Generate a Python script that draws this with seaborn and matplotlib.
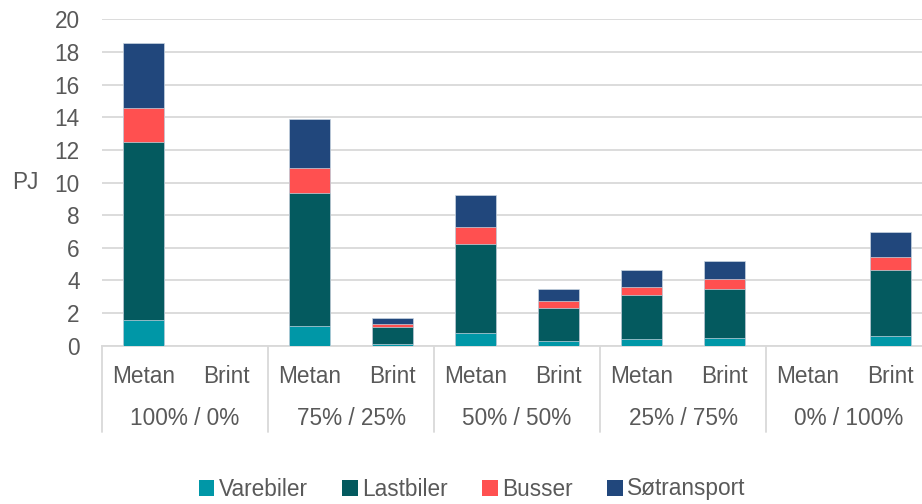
import matplotlib
matplotlib.use("Agg")
import matplotlib.pyplot as plt
import seaborn as sns
import pandas as pd
import numpy as np
from matplotlib.patches import Patch
from matplotlib.transforms import blended_transform_factory

groups = ["100% / 0%", "75% / 25%", "50% / 50%", "25% / 75%", "0% / 100%"]
fuels = ["Metan", "Brint"]
varebiler   = [1.57, 0.0, 1.20, 0.10, 0.78, 0.29, 0.41, 0.47, 0.0, 0.59]
lastbiler   = [10.91, 0.0, 8.16, 1.04, 5.46, 2.02, 2.69, 3.02, 0.0, 4.06]
busser      = [2.10, 0.0, 1.55, 0.21, 1.02, 0.41, 0.51, 0.59, 0.0, 0.78]
sotransport = [3.98, 0.0, 3.00, 0.36, 2.00, 0.73, 1.00, 1.10, 0.0, 1.51]
series_names = ["Varebiler", "Lastbiler", "Busser", "Søtransport"]
colors = ["#0097A7", "#045A5F", "#FF5050", "#21477C"]
yticks = [0, 2, 4, 6, 8, 10, 12, 14, 16, 18, 20]

sns.set_theme(style="white")
plt.rcParams["font.family"] = ["Liberation Sans", "DejaVu Sans"]
text_color = "#595959"
fs = 16.3

keys = [f"{g}|{f}" for g in groups for f in fuels]
df = pd.DataFrame({"key": keys, "Varebiler": varebiler, "Lastbiler": lastbiler,
                   "Busser": busser, "Søtransport": sotransport})
cum = df[series_names].cumsum(axis=1)
for s in series_names:
    df["cum_" + s] = cum[s]

fig = plt.figure(figsize=(9.22, 5.04), dpi=100)
ax = fig.add_axes([102 / 922, 1 - 345.7 / 504, 830 / 922, 326.4 / 504])

for s, c in reversed(list(zip(series_names, colors))):
    sns.barplot(data=df, x="key", y="cum_" + s, order=keys, color=c, width=0.5,
                saturation=1, errorbar=None, ax=ax, edgecolor="#c9d5e0", linewidth=0.5,
                zorder=3)

ax.set_ylim(0, 20)
ax.set_xlim(-0.5, 9.5)
ax.set_yticks(yticks)
ax.set_yticklabels([str(v) for v in yticks])
ax.yaxis.grid(True, color="#d9d9d9", linewidth=1.3, zorder=0)
ax.set_axisbelow(True)
for side in ["left", "right", "top"]:
    ax.spines[side].set_visible(False)
ax.spines["bottom"].set_color("#d9d9d9")
ax.spines["bottom"].set_linewidth(1.3)

ax.set_xticks(range(len(keys)))
ax.set_xticklabels(fuels * len(groups))
ax.tick_params(axis="x", length=0, pad=14, labelsize=fs, labelcolor=text_color)
ax.tick_params(axis="y", length=0, pad=16, labelsize=fs, labelcolor=text_color)
ax.set_xlabel("")
ax.set_ylabel("PJ", rotation=0, fontsize=fs, color=text_color, va="center")
ax.yaxis.set_label_coords(-0.092, 0.5)

trans = blended_transform_factory(ax.transData, ax.transAxes)
for i, g in enumerate(groups):
    ax.text(2 * i + 0.5, -0.222, g, transform=trans, ha="center", va="center",
            fontsize=fs, color=text_color)
for i in range(len(groups) + 1):
    ax.plot([2 * i - 0.5, 2 * i - 0.5], [0, -0.265], transform=trans,
            color="#d9d9d9", linewidth=1.3, clip_on=False)

handles = [Patch(facecolor=c, edgecolor="none", label=n) for n, c in zip(series_names, colors)]
fig.legend(handles=handles, loc="center", bbox_to_anchor=(0.512, 1 - 489 / 504), ncol=4,
           frameon=False, fontsize=fs, handlelength=0.7, handleheight=0.7,
           handletextpad=0.2, columnspacing=1.5, labelcolor=text_color)

fig.savefig("out.png", dpi=100)
